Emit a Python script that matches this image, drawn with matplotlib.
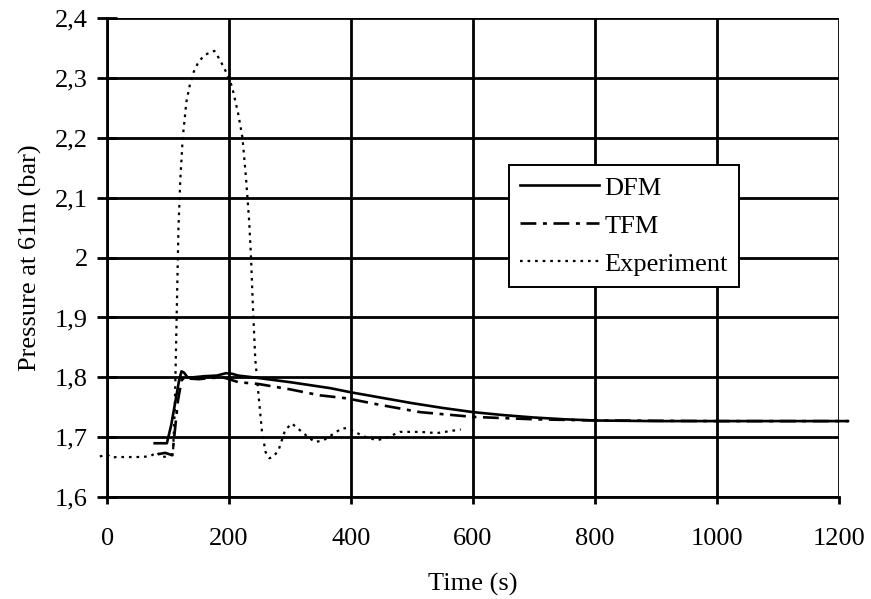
#! /usr/bin/env python3

import numpy as np
import matplotlib
matplotlib.use('Agg')
import matplotlib.pyplot as plt

plt.rcParams['font.family'] = ['Liberation Serif', 'DejaVu Serif']

# pressure at 61 m, time in seconds
t_exp = [-12, 0, 8, 15, 30, 50, 70, 82, 88, 100, 108, 111, 113, 115, 117, 120,
         124, 130, 136, 142, 150, 160, 170, 176, 185, 196, 205, 215, 222, 228,
         233, 236, 239, 243, 248, 254, 260, 266, 272, 281, 292, 303, 316, 330,
         341, 355, 370, 385, 395, 410, 425, 443, 460, 480, 513, 541, 580]
p_exp = [1.668, 1.671, 1.666, 1.667, 1.667, 1.667, 1.668, 1.675, 1.667, 1.668,
         1.672, 1.75, 1.85, 1.95, 2.05, 2.13, 2.20, 2.26, 2.29, 2.31, 2.327,
         2.338, 2.343, 2.345, 2.33, 2.308, 2.285, 2.24, 2.20, 2.13, 2.06, 2.00,
         1.92, 1.83, 1.774, 1.709, 1.675, 1.665, 1.667, 1.678, 1.712, 1.723,
         1.712, 1.70, 1.692, 1.695, 1.705, 1.715, 1.715, 1.707, 1.700, 1.695,
         1.700, 1.709, 1.709, 1.707, 1.713]

t_dfm = [78, 98, 105, 112, 118, 122, 126, 132, 140, 160, 180, 195, 205, 215,
         240, 300, 366, 400, 450, 500, 550, 600, 650, 700, 750, 800, 900, 1000,
         1100, 1215]
p_dfm = [1.690, 1.690, 1.72, 1.76, 1.795, 1.810, 1.808, 1.800, 1.800, 1.802,
         1.803, 1.807, 1.806, 1.803, 1.800, 1.792, 1.782, 1.775, 1.766, 1.757,
         1.749, 1.742, 1.737, 1.733, 1.730, 1.728, 1.727, 1.727, 1.727, 1.727]

t_tfm = [85, 95, 107, 110, 116, 122, 127, 135, 150, 170, 190, 200, 215, 248,
         300, 349, 393, 448, 513, 600, 700, 808, 1000, 1215]
p_tfm = [1.672, 1.674, 1.670, 1.70, 1.76, 1.795, 1.800, 1.798, 1.797, 1.799,
         1.800, 1.797, 1.792, 1.789, 1.780, 1.770, 1.765, 1.754, 1.742, 1.734,
         1.730, 1.728, 1.727, 1.727]

xticks = [0, 200, 400, 600, 800, 1000, 1200]
yticks = [1.6, 1.7, 1.8, 1.9, 2.0, 2.1, 2.2, 2.3, 2.4]
ylabels = ['1,6', '1,7', '1,8', '1,9', '2', '2,1', '2,2', '2,3', '2,4']

fs = 19

fig = plt.figure(figsize=(8.71, 5.99), dpi=100)
ax = fig.add_axes([0.123, 0.170, 0.840, 0.800])

ax.plot(t_dfm, p_dfm, color='black', lw=1.9, ls='-', label='DFM', clip_on=False)
ax.plot(t_tfm, p_tfm, color='black', lw=1.9, ls=(0, (6, 2.5, 1.5, 2.5)),
        label='TFM', clip_on=False)
ax.plot(t_exp, p_exp, color='black', lw=1.6, ls=(0, (1.2, 2.2)),
        label='Experiment', clip_on=False)

ax.set_xlim(0, 1200)
ax.set_ylim(1.6, 2.4)
ax.set_xticks(xticks)
ax.set_yticks(yticks)
ax.set_yticklabels(ylabels)
ax.grid(True, color='black', lw=2.0)
ax.set_axisbelow(True)

for side in ['top', 'right']:
    ax.spines[side].set_visible(False)
for side in ['left', 'bottom']:
    ax.spines[side].set_linewidth(2.0)

ax.tick_params(axis='y', direction='inout', length=14, width=2.0, labelsize=fs, pad=7)
ax.tick_params(axis='x', direction='out', length=5, width=2.0, labelsize=fs, pad=17)

ax.set_xlabel('Time (s)', fontsize=fs, labelpad=17)
ax.set_ylabel('Pressure at 61m (bar)', fontsize=fs, labelpad=9)

leg = ax.legend(loc='upper left', bbox_to_anchor=(0.549, 0.693), fontsize=fs,
                frameon=True, fancybox=False, edgecolor='black', framealpha=1,
                borderaxespad=0, handlelength=3.0, handletextpad=0.2,
                labelspacing=0.55, borderpad=0.42)
leg.get_frame().set_linewidth(1.4)

fig.savefig('out.png', dpi=100)
